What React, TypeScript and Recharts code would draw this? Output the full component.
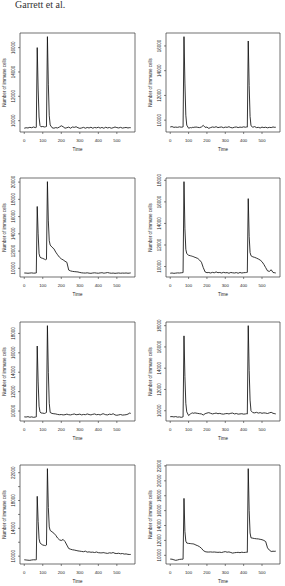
import { LineChart, Line, XAxis, YAxis, ReferenceArea } from 'recharts'

// time points (finer steps around the injection peaks)
const times = [
  0, 10, 20, 30, 40, 50, 60, 65, 70, 75, 80, 85, 90, 100, 110, 115, 120, 125, 130, 135, 140,
  150, 160, 170, 180, 190, 200, 210, 220, 230, 240, 250, 260, 270, 280, 290, 300, 310, 320,
  330, 340, 350, 360, 370, 380, 390, 400, 410, 415, 420, 425, 430, 435, 440, 450, 460, 470,
  480, 490, 500, 510, 520, 530, 540, 550, 560, 570, 575,
]

const cells1 = [
  9380, 9420, 9400, 9450, 9420, 9480, 9430, 9450, 16000, 12600, 10300, 9600, 9500, 9520, 9480, 9500, 9520, 16900, 13000, 10400, 9650,
  9420, 9380, 9430, 9400, 9480, 9580, 9500, 9380, 9420, 9470, 9380, 9480, 9450, 9500, 9420, 9370, 9400, 9450,
  9380, 9440, 9400, 9460, 9380, 9440, 9410, 9460, 9390, 9420, 9450, 9400, 9380, 9420, 9460, 9400, 9440, 9380,
  9420, 9480, 9430, 9400, 9450, 9390, 9420, 9440, 9400, 9430, 9420,
]
const cells2 = [
  9450, 9480, 9420, 9440, 9420, 9460, 9430, 9440, 9450, 16750, 13000, 10400, 9600, 9350, 9400, 9380, 9420, 9400, 9440, 9420, 9450,
  9420, 9400, 9450, 9580, 9420, 9440, 9340, 9400, 9450, 9420, 9470, 9400, 9430, 9450, 9390, 9440, 9420, 9470,
  9400, 9380, 9430, 9450, 9400, 9440, 9420, 9460, 9430, 9450, 9440, 16400, 12800, 10300, 9550, 9430, 9480, 9400,
  9420, 9370, 9440, 9400, 9430, 9380, 9420, 9400, 9450, 9420, 9430,
]
const cells3 = [
  9460, 9450, 9430, 9450, 9470, 9440, 9450, 9460, 17170, 14000, 11700, 11300, 11220, 11150, 11050, 11000, 11050, 20050, 15500, 13200, 12700,
  12450, 12270, 11880, 11570, 11290, 11100, 10980, 10820, 10700, 9800, 9700, 9650, 9620, 9600, 9580, 9520, 9480, 9460,
  9450, 9480, 9440, 9420, 9460, 9480, 9450, 9430, 9470, 9480, 9500, 9460, 9440, 9450, 9470, 9510, 9460, 9430,
  9450, 9420, 9440, 9460, 9430, 9450, 9440, 9460, 9430, 9450, 9470,
]
const cells4 = [
  9380, 9400, 9370, 9390, 9410, 9400, 9420, 9430, 9440, 17875, 13500, 11600, 11200, 11050, 11000, 10980, 10950, 10930, 10880, 10860, 10820,
  10750, 10600, 10400, 9900, 9500, 9430, 9450, 9400, 9460, 9420, 9500, 9430, 9450, 9400, 9460, 9420, 9440, 9380,
  9450, 9420, 9400, 9440, 9380, 9450, 9400, 9430, 9440, 9450, 9460, 16300, 12800, 11300, 11000, 10900, 10850, 10780,
  10700, 10600, 10450, 10200, 9900, 9600, 9550, 9700, 9450, 9420, 9400,
]
const cells5 = [
  9400, 9380, 9420, 9360, 9400, 9350, 9380, 9400, 16700, 13000, 10500, 9900, 9800, 9780, 9750, 9800, 9850, 18800, 14000, 10800, 9850,
  9750, 9720, 9700, 9650, 9620, 9640, 9600, 9620, 9680, 9620, 9600, 9650, 9700, 9620, 9640, 9680, 9600, 9650,
  9620, 9700, 9640, 9600, 9660, 9700, 9620, 9650, 9600, 9640, 9680, 9720, 9700, 9650, 9620, 9600, 9680, 9640,
  9720, 9600, 9560, 9600, 9640, 9580, 9600, 9620, 9680, 9800, 9750,
]
const cells6 = [
  9440, 9450, 9420, 9450, 9400, 9420, 9380, 9400, 9420, 17040, 13200, 10700, 9900, 9550, 9700, 9750, 9800, 9760, 9780, 9800, 9780,
  9750, 9720, 9700, 9600, 9720, 9780, 9820, 9760, 9700, 9740, 9780, 9720, 9750, 9700, 9680, 9720, 9740, 9700,
  9760, 9780, 9700, 9740, 9680, 9700, 9720, 9680, 9700, 9720, 9700, 18000, 13800, 11000, 10000, 9820, 9800, 9850,
  9780, 9820, 9760, 9800, 9780, 9740, 9800, 9850, 9760, 9720, 9700,
]
const cells7 = [
  9480, 9450, 9420, 9400, 9450, 9480, 9470, 9480, 18600, 15000, 12500, 11900, 11780, 11600, 11540, 11520, 11600, 22580, 17000, 14200, 13700,
  13500, 13300, 13000, 12600, 12350, 12250, 12400, 12100, 11600, 11100, 11000, 10920, 10880, 10820, 10760, 10720, 10680, 10640,
  10720, 10580, 10620, 10560, 10580, 10520, 10600, 10500, 10480, 10460, 10500, 10480, 10520, 10460, 10440, 10400, 10480, 10440,
  10520, 10400, 10380, 10420, 10340, 10380, 10300, 10320, 10260, 10240, 10250,
]
const cells8 = [
  9500, 9480, 9400, 9330, 9380, 9450, 9480, 9470, 9490, 17640, 13200, 11900, 11650, 11600, 11580, 11560, 11550, 11540, 11500, 11450, 11380,
  11290, 11150, 10950, 10650, 10500, 10450, 10440, 10460, 10430, 10450, 10420, 10400, 10420, 10380, 10450, 10500, 10420, 10460,
  10380, 10300, 10350, 10380, 10400, 10360, 10420, 10380, 10400, 10420, 10400, 21630, 16000, 13000, 12350, 12300, 12250, 12220,
  12200, 12150, 12100, 12000, 11850, 11000, 10700, 10520, 10550, 10540, 10560,
]

const xTicks = [0, 100, 200, 300, 400, 500]
const yTicksA = [10000, 12000, 14000, 16000]
const yTicksB = [10000, 12000, 14000, 16000, 18000]
const yTicksC = [10000, 12000, 14000, 16000, 18000, 20000]
const yTicksD = [10000, 12000, 14000, 16000, 18000, 20000, 22000]
const yLabelsSparse = [10000, 14000, 18000, 22000]

const panels = [
  { values: cells1, ticks: yTicksA, labels: yTicksA },
  { values: cells2, ticks: yTicksA, labels: yTicksA },
  { values: cells3, ticks: yTicksC, labels: yTicksC },
  { values: cells4, ticks: yTicksB, labels: yTicksB },
  { values: cells5, ticks: yTicksB, labels: yTicksB },
  { values: cells6, ticks: yTicksB, labels: yTicksB },
  { values: cells7, ticks: yTicksD, labels: yLabelsSparse },
  { values: cells8, ticks: yTicksD, labels: yTicksD },
]

const FONT = '"Liberation Sans", Arial, sans-serif'
const INK = '#222'
const rowTops = [0, 145, 289, 432]

// R style 4% padding on each side
function padded(vals: number[]): [number, number] {
  const lo = Math.min(...vals)
  const hi = Math.max(...vals)
  const r = hi - lo
  return [lo - 0.04 * r, hi + 0.04 * r]
}

const xDomain = padded(times)

function Panel({ values, ticks, labels, right }: { values: number[]; ticks: number[]; labels: number[]; right: boolean }) {
  const data = times.map((t, i) => ({ t, v: values[i] }))
  const yDomain = padded(values)
  const axisW = right ? 23 : 20

  const yTick = (p: any) => {
    if (!labels.includes(p.payload.value)) return <g />
    const x = p.x - 1
    return (
      <text x={x} y={p.y} transform={`rotate(-90 ${x} ${p.y})`} textAnchor="middle" fontSize={4.5} fontFamily={FONT} fill={INK}>
        {p.payload.value}
      </text>
    )
  }

  return (
    <LineChart width={142} height={155} data={data} margin={{ top: 33, right: right ? 5 : 7, bottom: 1, left: 0 }}>
      <XAxis
        dataKey="t"
        type="number"
        domain={xDomain}
        allowDataOverflow
        ticks={xTicks}
        interval={0}
        height={22}
        axisLine={false}
        tickSize={2}
        tickMargin={5}
        tickLine={{ stroke: '#333', strokeWidth: 0.6 }}
        tick={{ fontSize: 4.3, fill: INK, fontFamily: FONT }}
        label={{ value: 'Time', position: 'insideBottom', offset: 3.5, style: { fontSize: 4.5, fill: INK, fontFamily: FONT } }}
      />
      <YAxis
        type="number"
        domain={yDomain}
        allowDataOverflow
        ticks={ticks}
        interval={0}
        width={axisW}
        axisLine={false}
        tickSize={2}
        tickMargin={2}
        tickLine={{ stroke: '#333', strokeWidth: 0.6 }}
        tick={yTick}
        label={{
          value: 'Number of immune cells',
          angle: -90,
          position: 'insideLeft',
          offset: right ? 7 : 4,
          style: { textAnchor: 'middle', fontSize: 4.5, fill: INK, fontFamily: FONT },
        }}
      />
      <ReferenceArea x1={xDomain[0]} x2={xDomain[1]} y1={yDomain[0]} y2={yDomain[1]} fill="none" stroke="#333" strokeWidth={0.7} />
      <Line type="linear" dataKey="v" stroke="#111" strokeWidth={0.85} dot={false} isAnimationActive={false} />
    </LineChart>
  )
}

export default function App() {
  return (
    <div style={{ position: 'absolute', left: 0, top: 0, width: 285, height: 586, overflow: 'hidden', background: '#fff' }}>
      <svg width={285} height={12} style={{ position: 'absolute', left: 0, top: 0 }}>
        <text x={15} y={8} fontSize={10} fontFamily='"Liberation Serif", "Times New Roman", serif' fill="#333">
          Garrett et al.
        </text>
      </svg>
      {panels.map((p, i) => (
        <div key={i} style={{ position: 'absolute', left: i % 2 === 0 ? 0 : 143, top: rowTops[Math.floor(i / 2)] }}>
          <Panel values={p.values} ticks={p.ticks} labels={p.labels} right={i % 2 === 1} />
        </div>
      ))}
    </div>
  )
}
